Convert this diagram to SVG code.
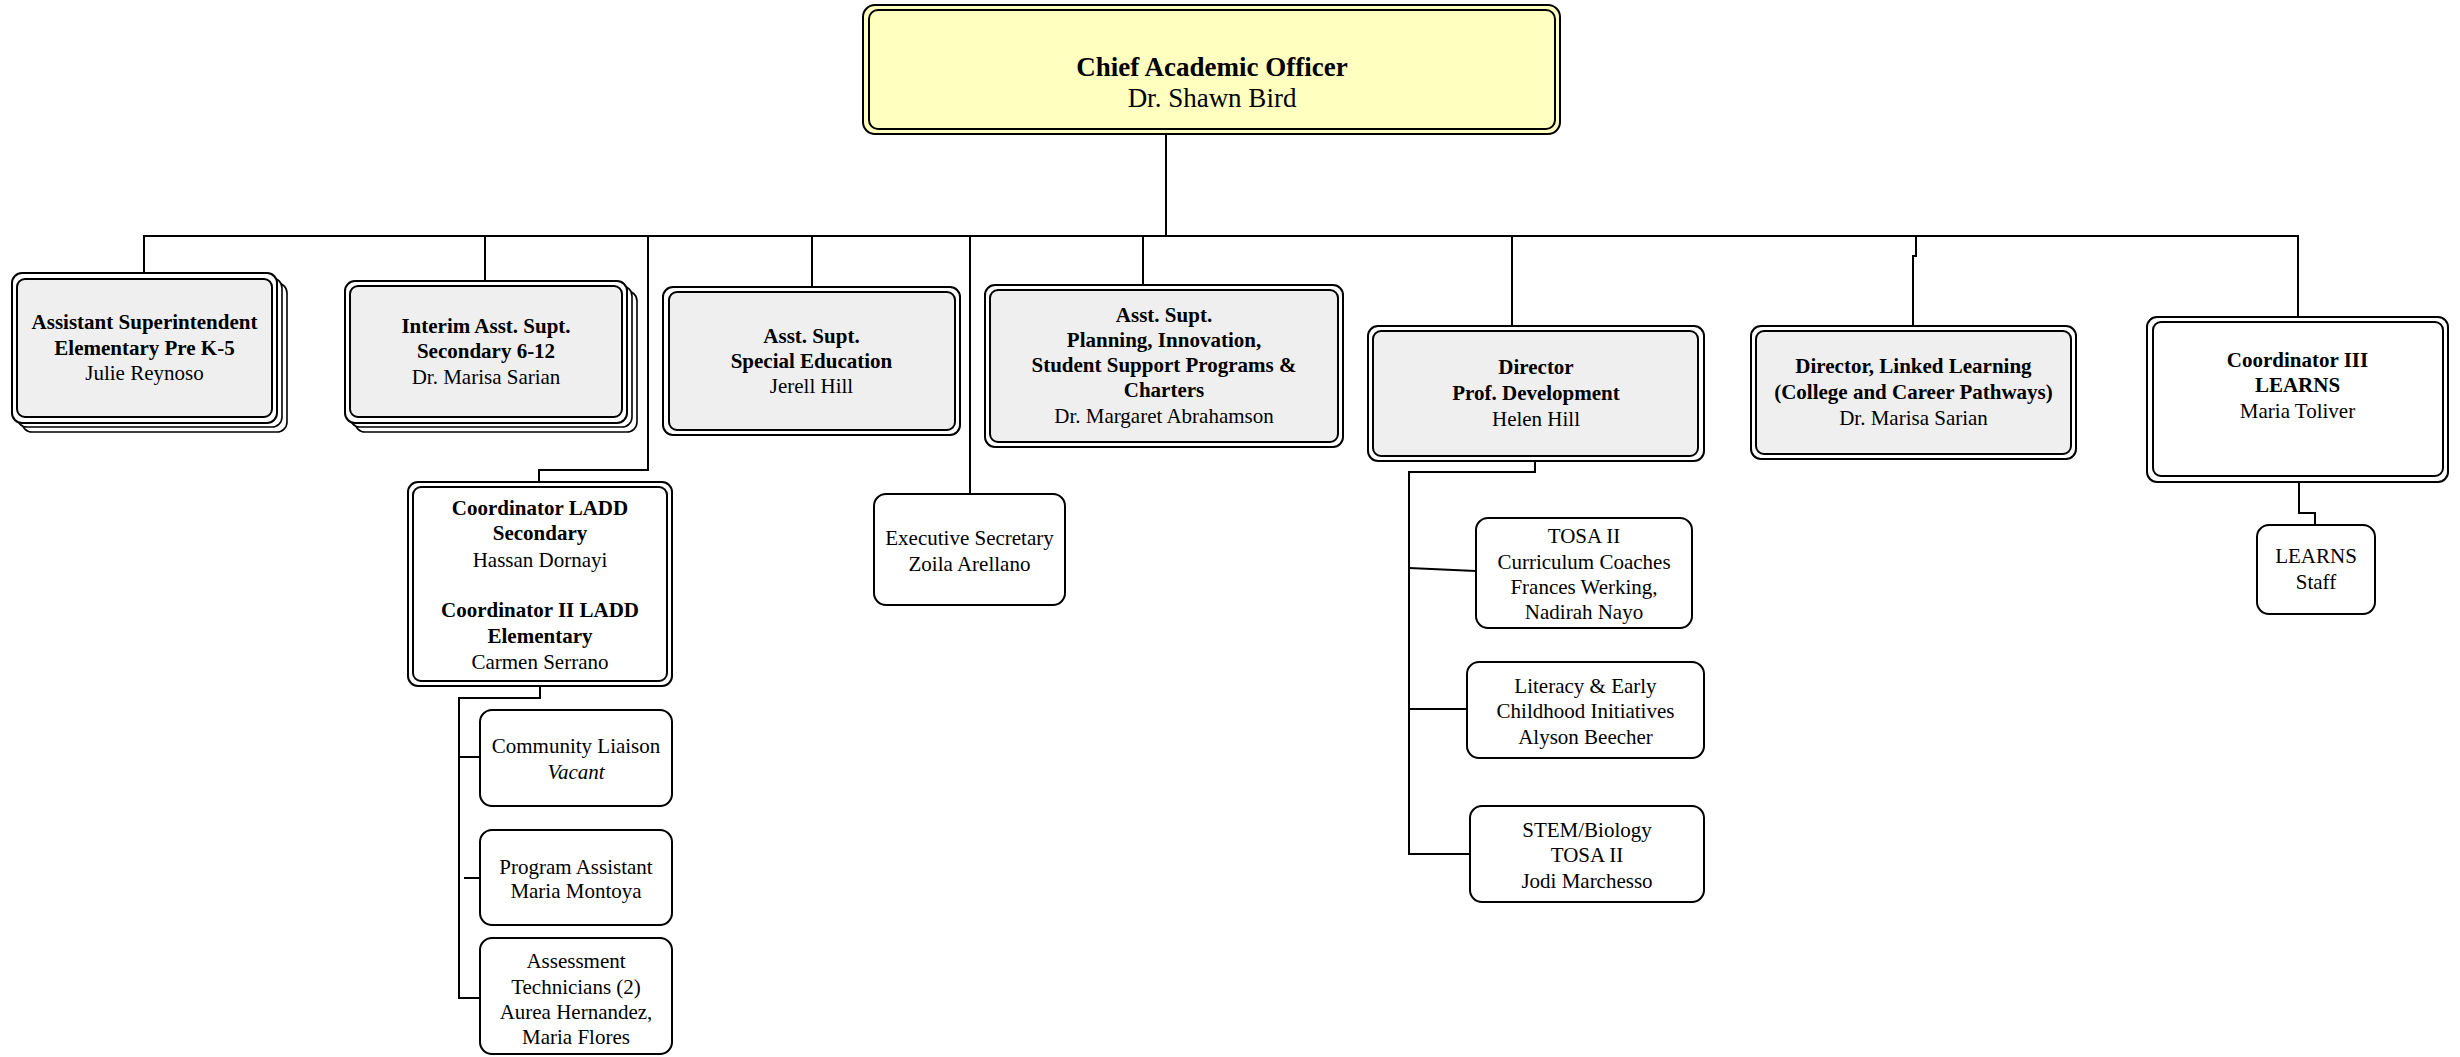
<svg xmlns="http://www.w3.org/2000/svg" width="2460" height="1057" viewBox="0 0 2460 1057">
<style>
.bg{fill:#ffffff}
.o{stroke:#000;stroke-width:2;fill:#ffffff}
.oy{stroke:#000;stroke-width:2;fill:#ffffc0}
.i{stroke:#000;stroke-width:2;fill:none}
.ig{stroke:#000;stroke-width:2;fill:#efefef}
.st{stroke:#000;stroke-width:1.6;fill:#ffffff}
.c{stroke:#000;stroke-width:2;fill:none}
text{font-family:"Liberation Serif","Times New Roman",serif;font-size:21px;text-anchor:middle;fill:#000}
.b{font-weight:bold}
.big{font-size:27px}
.it{font-style:italic}
</style>
<rect class="bg" x="0" y="0" width="2460" height="1057"/>
<g id="connectors">
<path class="c" d="M1166 134 V236"/>
<path class="c" d="M143 236 H2299"/>
<path class="c" d="M144 236 V273"/>
<path class="c" d="M485 236 V281"/>
<path class="c" d="M648 236 V470 H539 V482"/>
<path class="c" d="M812 236 V287"/>
<path class="c" d="M970 236 V494"/>
<path class="c" d="M1143 236 V285"/>
<path class="c" d="M1512 236 V326"/>
<path class="c" d="M1916 236 V256 H1913 V326"/>
<path class="c" d="M2298 236 V317"/>
<path class="c" d="M540 686 V698 H459 V998 H480"/>
<path class="c" d="M458 757 H480"/>
<path class="c" d="M464 878 H480"/>
<path class="c" d="M1535 461 V472 H1409 V854 H1470"/>
<path class="c" d="M1409 568 L1476 571"/>
<path class="c" d="M1409 709 H1467"/>
<path class="c" d="M2299 482 V513 H2315 V525"/>
</g>
<g id="cao">
<rect class="oy" x="863" y="5" width="697" height="129" rx="12"/>
<rect class="i" x="869" y="10" width="686" height="119" rx="9"/>
<text class="b big" x="1212" y="76">Chief Academic Officer</text>
<text class="big" x="1212" y="107">Dr. Shawn Bird</text>
</g>
<g id="asst-supt-elementary">
<rect class="st" x="22" y="283" width="265" height="149" rx="10"/>
<rect class="st" x="17" y="278" width="265" height="149" rx="10"/>
<rect class="o" x="12" y="273" width="265" height="150" rx="10"/>
<rect class="ig" x="17" y="279" width="255" height="138" rx="8"/>
<text class="b" x="144.5" y="329">Assistant Superintendent</text>
<text class="b" x="144.5" y="355">Elementary Pre K-5</text>
<text x="144.5" y="380">Julie Reynoso</text>
</g>
<g id="interim-asst-supt-secondary">
<rect class="st" x="355" y="291" width="282" height="141" rx="10"/>
<rect class="st" x="350" y="286" width="282" height="141" rx="10"/>
<rect class="o" x="345" y="281" width="282" height="142" rx="10"/>
<rect class="ig" x="350" y="286" width="272" height="131" rx="8"/>
<text class="b" x="486" y="333">Interim Asst. Supt.</text>
<text class="b" x="486" y="358">Secondary 6-12</text>
<text x="486" y="384">Dr. Marisa Sarian</text>
</g>
<g id="asst-supt-special-education">
<rect class="o" x="663" y="287" width="297" height="148" rx="10"/>
<rect class="ig" x="669" y="292" width="286" height="138" rx="8"/>
<text class="b" x="811.5" y="343">Asst. Supt.</text>
<text class="b" x="811.5" y="368">Special Education</text>
<text x="811.5" y="393">Jerell Hill</text>
</g>
<g id="asst-supt-planning">
<rect class="o" x="985" y="285" width="358" height="162" rx="10"/>
<rect class="ig" x="990" y="290" width="348" height="152" rx="8"/>
<text class="b" x="1164" y="322">Asst. Supt.</text>
<text class="b" x="1164" y="347">Planning, Innovation,</text>
<text class="b" x="1164" y="372">Student Support Programs &amp;</text>
<text class="b" x="1164" y="397">Charters</text>
<text x="1164" y="423">Dr. Margaret Abrahamson</text>
</g>
<g id="director-prof-dev">
<rect class="o" x="1368" y="326" width="336" height="135" rx="10"/>
<rect class="ig" x="1373" y="331" width="325" height="125" rx="8"/>
<text class="b" x="1536" y="374">Director</text>
<text class="b" x="1536" y="400">Prof. Development</text>
<text x="1536" y="426">Helen Hill</text>
</g>
<g id="director-linked-learning">
<rect class="o" x="1751" y="326" width="325" height="133" rx="10"/>
<rect class="ig" x="1756" y="331" width="315" height="123" rx="8"/>
<text class="b" x="1913.5" y="373">Director, Linked Learning</text>
<text class="b" x="1913.5" y="399">(College and Career Pathways)</text>
<text x="1913.5" y="425">Dr. Marisa Sarian</text>
</g>
<g id="coordinator-iii-learns">
<rect class="o" x="2147" y="317" width="301" height="165" rx="10"/>
<rect class="i" x="2153" y="322" width="290" height="154" rx="8"/>
<text class="b" x="2297.5" y="367">Coordinator III</text>
<text class="b" x="2297.5" y="392">LEARNS</text>
<text x="2297.5" y="418">Maria Toliver</text>
</g>
<g id="coordinator-ladd">
<rect class="o" x="408" y="482" width="264" height="204" rx="10"/>
<rect class="i" x="413" y="487" width="254" height="194" rx="8"/>
<text class="b" x="540" y="515">Coordinator LADD</text>
<text class="b" x="540" y="540">Secondary</text>
<text x="540" y="567">Hassan Dornayi</text>
<text class="b" x="540" y="617">Coordinator II LADD</text>
<text class="b" x="540" y="643">Elementary</text>
<text x="540" y="669">Carmen Serrano</text>
</g>
<g id="executive-secretary">
<rect class="o" x="874" y="494" width="191" height="111" rx="12"/>
<text x="969.5" y="545">Executive Secretary</text>
<text x="969.5" y="571">Zoila Arellano</text>
</g>
<g id="community-liaison">
<rect class="o" x="480" y="710" width="192" height="96" rx="12"/>
<text x="576" y="753">Community Liaison</text>
<text class="it" x="576" y="779">Vacant</text>
</g>
<g id="program-assistant">
<rect class="o" x="480" y="830" width="192" height="95" rx="12"/>
<text x="576" y="874">Program Assistant</text>
<text x="576" y="898">Maria Montoya</text>
</g>
<g id="assessment-technicians">
<rect class="o" x="480" y="938" width="192" height="116" rx="12"/>
<text x="576" y="968">Assessment</text>
<text x="576" y="994">Technicians (2)</text>
<text x="576" y="1019">Aurea Hernandez,</text>
<text x="576" y="1044">Maria Flores</text>
</g>
<g id="tosa-curriculum-coaches">
<rect class="o" x="1476" y="518" width="216" height="110" rx="12"/>
<text x="1584" y="543">TOSA II</text>
<text x="1584" y="569">Curriculum Coaches</text>
<text x="1584" y="594">Frances Werking,</text>
<text x="1584" y="619">Nadirah Nayo</text>
</g>
<g id="literacy-early-childhood">
<rect class="o" x="1467" y="662" width="237" height="96" rx="12"/>
<text x="1585.5" y="693">Literacy &amp; Early</text>
<text x="1585.5" y="718">Childhood Initiatives</text>
<text x="1585.5" y="744">Alyson Beecher</text>
</g>
<g id="stem-biology">
<rect class="o" x="1470" y="806" width="234" height="96" rx="12"/>
<text x="1587" y="837">STEM/Biology</text>
<text x="1587" y="862">TOSA II</text>
<text x="1587" y="888">Jodi Marchesso</text>
</g>
<g id="learns-staff">
<rect class="o" x="2257" y="525" width="118" height="89" rx="12"/>
<text x="2316" y="563">LEARNS</text>
<text x="2316" y="589">Staff</text>
</g>
</svg>
